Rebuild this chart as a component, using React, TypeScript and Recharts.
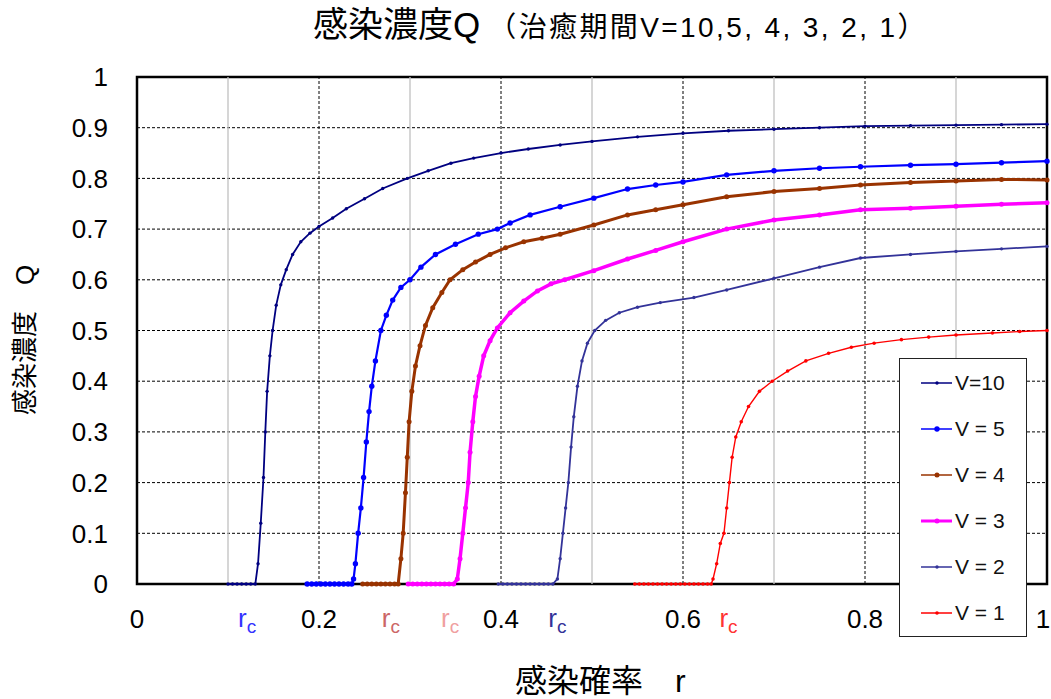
import React from 'react';
import {
  LineChart, Line, XAxis, YAxis, CartesianGrid, ReferenceLine, ReferenceArea, ReferenceDot,
} from 'recharts';

const FONT = "'Liberation Sans', 'Noto Sans CJK JP', sans-serif";

// 感染確率 r / 感染濃度 Q  for each 治癒期間 V
const rV10 = [0.100, 0.105, 0.110, 0.115, 0.120, 0.125, 0.130, 0.133, 0.136, 0.139, 0.141, 0.143, 0.146, 0.149, 0.153, 0.158, 0.164, 0.171, 0.180, 0.190, 0.200, 0.215, 0.230, 0.250, 0.270, 0.297, 0.320, 0.345, 0.370, 0.400, 0.430, 0.465, 0.500, 0.550, 0.600, 0.650, 0.700, 0.750, 0.800, 0.850, 0.900, 0.950, 1.000];
const qV10 = [0, 0, 0, 0, 0, 0, 0, 0.04, 0.12, 0.21, 0.30, 0.38, 0.45, 0.50, 0.55, 0.59, 0.62, 0.65, 0.675, 0.692, 0.705, 0.722, 0.74, 0.76, 0.78, 0.80, 0.815, 0.83, 0.84, 0.85, 0.858, 0.866, 0.873, 0.882, 0.889, 0.894, 0.897, 0.900, 0.903, 0.904, 0.905, 0.906, 0.907];

const rV5 = [0.187, 0.192, 0.197, 0.202, 0.207, 0.212, 0.217, 0.222, 0.227, 0.232, 0.236, 0.238, 0.240, 0.243, 0.246, 0.249, 0.252, 0.255, 0.258, 0.262, 0.268, 0.274, 0.281, 0.290, 0.300, 0.312, 0.328, 0.350, 0.375, 0.396, 0.410, 0.432, 0.465, 0.502, 0.539, 0.570, 0.600, 0.648, 0.700, 0.750, 0.795, 0.850, 0.900, 0.950, 1.000];
const qV5 = [0, 0, 0, 0, 0, 0, 0, 0, 0, 0, 0, 0.01, 0.04, 0.10, 0.15, 0.21, 0.28, 0.34, 0.39, 0.44, 0.50, 0.53, 0.56, 0.585, 0.60, 0.625, 0.65, 0.67, 0.69, 0.70, 0.712, 0.728, 0.744, 0.761, 0.779, 0.787, 0.793, 0.807, 0.815, 0.82, 0.823, 0.826, 0.828, 0.831, 0.834];

const rV4 = [0.248, 0.253, 0.258, 0.263, 0.268, 0.273, 0.278, 0.283, 0.287, 0.290, 0.2925, 0.295, 0.297, 0.299, 0.302, 0.306, 0.311, 0.317, 0.325, 0.335, 0.344, 0.358, 0.372, 0.388, 0.405, 0.425, 0.445, 0.465, 0.502, 0.539, 0.570, 0.600, 0.648, 0.700, 0.750, 0.795, 0.850, 0.900, 0.950, 1.000];
const qV4 = [0, 0, 0, 0, 0, 0, 0, 0, 0, 0.05, 0.10, 0.18, 0.25, 0.32, 0.38, 0.43, 0.47, 0.51, 0.545, 0.575, 0.60, 0.62, 0.635, 0.65, 0.663, 0.675, 0.682, 0.69, 0.708, 0.728, 0.738, 0.748, 0.764, 0.774, 0.78, 0.787, 0.792, 0.795, 0.798, 0.797];

const rV3 = [0.298, 0.303, 0.308, 0.313, 0.318, 0.323, 0.328, 0.333, 0.338, 0.343, 0.348, 0.352, 0.355, 0.358, 0.361, 0.364, 0.366, 0.369, 0.372, 0.376, 0.381, 0.388, 0.396, 0.410, 0.425, 0.440, 0.455, 0.470, 0.502, 0.539, 0.570, 0.600, 0.648, 0.700, 0.750, 0.795, 0.850, 0.900, 0.950, 1.000];
const qV3 = [0, 0, 0, 0, 0, 0, 0, 0, 0, 0, 0, 0.01, 0.05, 0.10, 0.15, 0.20, 0.26, 0.32, 0.37, 0.41, 0.45, 0.48, 0.505, 0.535, 0.558, 0.578, 0.592, 0.600, 0.618, 0.641, 0.658, 0.675, 0.70, 0.718, 0.728, 0.738, 0.741, 0.745, 0.749, 0.752];

const rV2 = [0.397, 0.402, 0.407, 0.412, 0.417, 0.422, 0.427, 0.432, 0.437, 0.442, 0.447, 0.452, 0.457, 0.462, 0.465, 0.468, 0.471, 0.474, 0.477, 0.480, 0.484, 0.489, 0.495, 0.503, 0.515, 0.530, 0.550, 0.575, 0.612, 0.648, 0.700, 0.750, 0.795, 0.850, 0.900, 0.950, 1.000];
const qV2 = [0, 0, 0, 0, 0, 0, 0, 0, 0, 0, 0, 0, 0, 0.01, 0.05, 0.10, 0.15, 0.20, 0.27, 0.33, 0.39, 0.44, 0.475, 0.50, 0.52, 0.535, 0.546, 0.555, 0.565, 0.58, 0.603, 0.625, 0.643, 0.650, 0.656, 0.661, 0.666];

const rV1 = [0.547, 0.552, 0.557, 0.562, 0.567, 0.572, 0.577, 0.582, 0.587, 0.592, 0.597, 0.602, 0.607, 0.612, 0.617, 0.622, 0.627, 0.631, 0.633, 0.637, 0.641, 0.645, 0.648, 0.651, 0.654, 0.658, 0.664, 0.672, 0.684, 0.698, 0.715, 0.735, 0.760, 0.785, 0.810, 0.840, 0.870, 0.900, 0.940, 0.970, 1.000];
const qV1 = [0, 0, 0, 0, 0, 0, 0, 0, 0, 0, 0, 0, 0, 0, 0, 0, 0, 0, 0.01, 0.04, 0.08, 0.10, 0.15, 0.20, 0.25, 0.29, 0.32, 0.35, 0.38, 0.40, 0.42, 0.44, 0.455, 0.467, 0.475, 0.482, 0.487, 0.491, 0.495, 0.498, 0.50];

const seriesNames = ['V=10', 'V = 5', 'V = 4', 'V = 3', 'V = 2', 'V = 1'];

const xTicks = [0, 0.2, 0.4, 0.6, 0.8, 1];
const yTicks = [0, 0.1, 0.2, 0.3, 0.4, 0.5, 0.6, 0.7, 0.8, 0.9, 1];
const gridMinor = [0.1, 0.3, 0.5, 0.7, 0.9];
const gridMajor = [0.2, 0.4, 0.6, 0.8];

// r_c markers under the axis
const rcX = [0.121, 0.279, 0.344, 0.462, 0.650];
const rcColors = ['#3333FF', '#CC6666', '#F0A0A0', '#333399', '#FF3333'];

const toPoints = (r: number[], q: number[]) => r.map((v, i) => ({ r: v, q: q[i] }));

const SERIES = [
  { name: seriesNames[0], data: toPoints(rV10, qV10), color: '#000080', width: 1.8, dotR: 1.7, legendW: 1.5 },
  { name: seriesNames[1], data: toPoints(rV5, qV5), color: '#0000FF', width: 2.2, dotR: 2.7, legendW: 1.5 },
  { name: seriesNames[2], data: toPoints(rV4, qV4), color: '#993300', width: 3, dotR: 2.5, legendW: 1.5 },
  { name: seriesNames[3], data: toPoints(rV3, qV3), color: '#FF00FF', width: 3.5, dotR: 2.5, legendW: 3 },
  { name: seriesNames[4], data: toPoints(rV2, qV2), color: '#333399', width: 1.8, dotR: 1.7, legendW: 1.5 },
  { name: seriesNames[5], data: toPoints(rV1, qV1), color: '#FF0000', width: 1.4, dotR: 1.8, legendW: 1.5 },
];

const RcMark = (props: any) => {
  const { cx, cy, fill } = props;
  return (
    <text x={cx} y={cy + 43} textAnchor="middle" fill={fill} fontFamily={FONT} fontSize={26}>
      r<tspan dy={6} fontSize={19}>c</tspan>
    </text>
  );
};

const XTick = (props: any) => {
  const { x, y, payload } = props;
  return (
    <text x={payload.value === 1 ? x - 4 : x} y={y} dy="0.71em" textAnchor="middle" fontFamily={FONT} fontSize={26} fill="#000">
      {String(payload.value)}
    </text>
  );
};

const LegendBox = () => (
  <div
    style={{
      position: 'absolute', left: 899, top: 358, width: 126, height: 276,
      border: '1px solid #222', background: '#fff', paddingTop: 1,
      fontFamily: FONT, fontSize: 21, color: '#111',
    }}
  >
    {SERIES.map((s) => (
      <div key={s.name} style={{ height: 46, display: 'flex', alignItems: 'center' }}>
        <svg width={52} height={12} style={{ marginLeft: 2 }}>
          <line x1={19} y1={6} x2={50} y2={6} stroke={s.color} strokeWidth={s.legendW} />
          <circle cx={35} cy={6} r={s.dotR} fill={s.color} />
        </svg>
        <span style={{ marginLeft: 1 }}>{s.name}</span>
      </div>
    ))}
  </div>
);

const App: React.FC = () => {
  return (
    <div style={{ position: 'absolute', left: 0, top: 0, width: 1051, height: 699, background: '#fff' }}>
      <svg width={1051} height={60} style={{ position: 'absolute', left: 0, top: 0 }}>
        <text x={313} y={37} fontFamily={FONT} fill="#000">
          <tspan fontSize={35}>感染濃度Q</tspan>
          <tspan fontSize={28} dx={8} letterSpacing={2.4}>（治癒期間V=10,5, 4, 3, 2, 1）</tspan>
        </text>
      </svg>
      <div style={{ position: 'absolute', left: 0, top: 0 }}>
        <LineChart width={1051} height={699} margin={{ top: 77, right: 4, bottom: 75, left: 77 }}>
          <CartesianGrid horizontal vertical={false} stroke="#000" strokeDasharray="3 2" />
          {gridMinor.map((x) => (
            <ReferenceLine key={`mi-${x}`} x={x} stroke="#c0c0c0" strokeWidth={1.3} />
          ))}
          {gridMajor.map((x) => (
            <ReferenceLine key={`ma-${x}`} x={x} stroke="#000" strokeDasharray="3 2" />
          ))}
          <ReferenceArea x1={0} x2={1} y1={0} y2={1} fill="none" stroke="#000" strokeWidth={2.5} ifOverflow="visible" />
          <XAxis
            type="number"
            dataKey="r"
            domain={[0, 1]}
            ticks={xTicks}
            interval={0}
            axisLine={false}
            tickLine={false}
            tickSize={0}
            tickMargin={26}
            height={40}
            tick={<XTick />}
            allowDuplicatedCategory={false}
            label={{
              content: () => (
                <text x={515} y={692} fontFamily={FONT} fontSize={32} fill="#000">
                  感染確率　r
                </text>
              ),
            }}
          />
          <YAxis
            type="number"
            domain={[0, 1]}
            ticks={yTicks}
            interval={0}
            axisLine={false}
            tickLine={false}
            tickSize={0}
            tickMargin={29}
            width={60}
            tick={{ fontSize: 26, fill: '#000', fontFamily: FONT }}
            label={{
              content: () => (
                <text
                  x={34}
                  y={340}
                  transform="rotate(-90 34 340)"
                  textAnchor="middle"
                  fontFamily={FONT}
                  fontSize={26}
                  fill="#000"
                >
                  感染濃度　Q
                </text>
              ),
            }}
          />
          {SERIES.map((s) => (
            <Line
              key={s.name}
              data={s.data}
              dataKey="q"
              name={s.name}
              type="linear"
              stroke={s.color}
              strokeWidth={s.width}
              dot={{ r: s.dotR, fill: s.color, stroke: s.color, strokeWidth: 0 }}
              activeDot={false}
              isAnimationActive={false}
            />
          ))}
          {rcX.map((x, i) => (
            <ReferenceDot
              key={`rc-${i}`}
              x={x}
              y={0}
              r={0}
              fill={rcColors[i]}
              ifOverflow="visible"
              shape={RcMark}
            />
          ))}
        </LineChart>
      </div>
      <LegendBox />
    </div>
  );
};

export default App;
